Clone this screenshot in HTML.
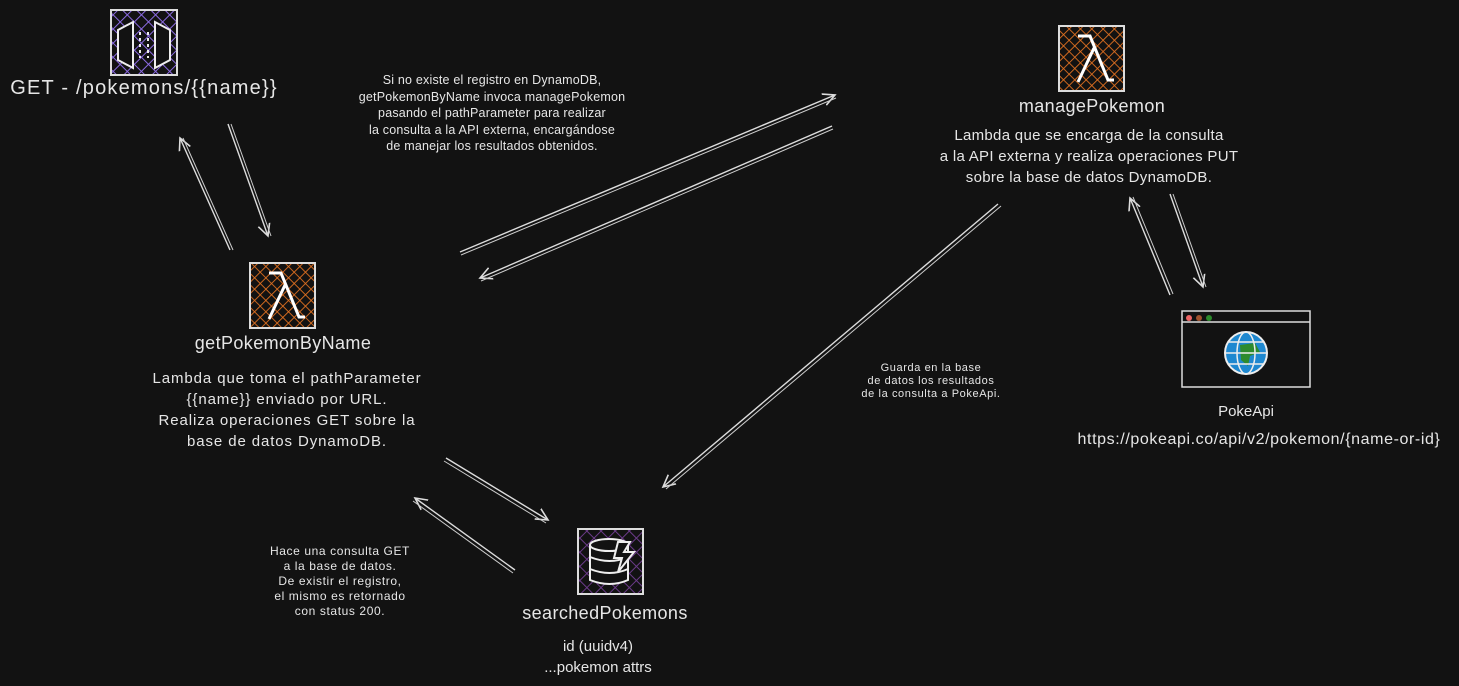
<!DOCTYPE html>
<html><head><meta charset="utf-8"><style>
body{margin:0;background:#121212;width:1459px;height:686px;overflow:hidden;position:relative;font-family:"Liberation Sans",sans-serif;color:#e6e6e6}
.t{position:absolute;text-align:center;white-space:nowrap;transform:translateX(-50%)}
svg{position:absolute;left:0;top:0}
</style></head><body>
<svg width="1459" height="686">
<defs>
<pattern id="hp" width="10" height="10" patternUnits="userSpaceOnUse" patternTransform="rotate(45)"><path d="M0 0H10M0 0V10" stroke="#8a6ae0" stroke-width="2"/></pattern>
<pattern id="ho" width="8" height="8" patternUnits="userSpaceOnUse" patternTransform="rotate(45)"><path d="M0 0H8M0 0V8" stroke="#e07020" stroke-width="1.8"/></pattern>
<pattern id="hd" width="10" height="10" patternUnits="userSpaceOnUse" patternTransform="rotate(45)"><path d="M0 0H10M0 0V10" stroke="#6a3a88" stroke-width="2"/></pattern>
<marker id="a" markerWidth="14" markerHeight="14" refX="12" refY="7" orient="auto" markerUnits="userSpaceOnUse"><path d="M0 1L12 7L0 13" fill="none" stroke="#ddd" stroke-width="1.6"/></marker>
</defs>
<rect x="111" y="10" width="66" height="65" fill="url(#hp)" stroke="#ddd" stroke-width="2"/>
<path d="M118 30L133 22V68L118 60Z M170 30L155 22V68L170 60Z" fill="#121212" stroke="#eee" stroke-width="2"/>
<path d="M140 32V58M148 32V58" stroke="#eee" stroke-dasharray="3 3" stroke-width="2"/>
<g stroke="#ddd" stroke-width="2"><rect x="1059" y="26" width="65" height="65" fill="url(#ho)"/><rect x="250" y="263" width="65" height="65" fill="url(#ho)"/></g>
<g fill="none" stroke="#fff" stroke-width="3"><path d="M1078 36H1090L1108 80H1114M1094 48L1078 82"/><path d="M269 273H281L299 317H305M285 285L269 319"/></g>
<rect x="578" y="529" width="65" height="65" fill="url(#hd)" stroke="#ddd" stroke-width="2"/>
<g fill="#121212" stroke="#eee" stroke-width="2"><path d="M590 545V580Q610 588 628 580V545"/><ellipse cx="609" cy="545" rx="19" ry="6"/><path d="M590 557Q610 565 628 557M590 569Q610 577 628 569"/><path d="M618 542L630 542L624 552L634 552L618 572L622 558L614 558Z"/></g>
<rect x="1182" y="311" width="128" height="76" fill="#121212" stroke="#ddd" stroke-width="1.5"/>
<line x1="1182" y1="322" x2="1310" y2="322" stroke="#ddd" stroke-width="1.5"/>
<circle cx="1189" cy="318" r="3" fill="#e66"/><circle cx="1199" cy="318" r="3" fill="#a0522d"/><circle cx="1209" cy="318" r="3" fill="#2a8a2a"/>
<circle cx="1246" cy="353" r="21" fill="#1e88d0" stroke="#eee" stroke-width="2"/>
<path d="M1240 345L1255 343L1260 352L1250 356L1248 366L1241 360Z" fill="#2e8b2e"/>
<g fill="none" stroke="#eee" stroke-width="1.5"><ellipse cx="1246" cy="353" rx="9" ry="21"/><path d="M1225 353H1267M1229 342H1263M1229 364H1263"/></g>
<g fill="none" stroke="#ddd" stroke-width="1.4" marker-end="url(#a)">
<path d="M228 124L268 236"/><path d="M230 250L180 138"/>
<path d="M460 252L835 95"/><path d="M832 126L480 278"/>
<path d="M998 204L663 487"/><path d="M1170 295L1130 198"/>
<path d="M1170 194L1203 287"/><path d="M446 458L548 520"/><path d="M515 570L415 498"/>
</g>
<g fill="none" stroke="#ccc" stroke-width="1">
<path d="M231 124L271 236"/><path d="M233 250L183 138"/>
<path d="M461 255L836 98"/><path d="M833 129L481 281"/>
<path d="M1001 206L666 489"/><path d="M1173 294L1133 197"/>
<path d="M1173 194L1206 287"/><path d="M444 461L546 523"/><path d="M513 573L413 501"/>
</g>
</svg>
<div class="t" style="left:144px;top:77px;font-size:20px;letter-spacing:1.2px">GET - /pokemons/{{name}}</div>
<div class="t" style="left:1092px;top:96px;font-size:18px;letter-spacing:0.4px">managePokemon</div>
<div class="t" style="left:1089px;top:125px;font-size:15px;line-height:21px;letter-spacing:0.3px">Lambda que se encarga de la consulta<br>a la API externa y realiza operaciones PUT<br>sobre la base de datos DynamoDB.</div>
<div class="t" style="left:283px;top:333px;font-size:18px;letter-spacing:0.4px">getPokemonByName</div>
<div class="t" style="left:287px;top:368px;font-size:15px;line-height:21px;letter-spacing:0.9px">Lambda que toma el pathParameter<br>{{name}} enviado por URL.<br>Realiza operaciones GET sobre la<br>base de datos DynamoDB.</div>
<div class="t" style="left:605px;top:603px;font-size:18px;letter-spacing:0.4px">searchedPokemons</div>
<div class="t" style="left:598px;top:636px;font-size:15px;line-height:21px">id (uuidv4)<br>...pokemon attrs</div>
<div class="t" style="left:1246px;top:403px;font-size:15px">PokeApi</div>
<div class="t" style="left:1259px;top:431px;font-size:16px;letter-spacing:0.6px">https://pokeapi.co/api/v2/pokemon/{name-or-id}</div>
<div class="t" style="left:492px;top:72px;font-size:12.5px;line-height:16.5px;letter-spacing:0.2px">Si no existe el registro en DynamoDB,<br>getPokemonByName invoca managePokemon<br>pasando el pathParameter para realizar<br>la consulta a la API externa, encargándose<br>de manejar los resultados obtenidos.</div>
<div class="t" style="left:931px;top:362px;font-size:11px;line-height:13px;letter-spacing:0.6px">Guarda en la base<br>de datos los resultados<br>de la consulta a PokeApi.</div>
<div class="t" style="left:340px;top:544px;font-size:12px;line-height:15px;letter-spacing:0.6px">Hace una consulta GET<br>a la base de datos.<br>De existir el registro,<br>el mismo es retornado<br>con status 200.</div>
</body></html>
